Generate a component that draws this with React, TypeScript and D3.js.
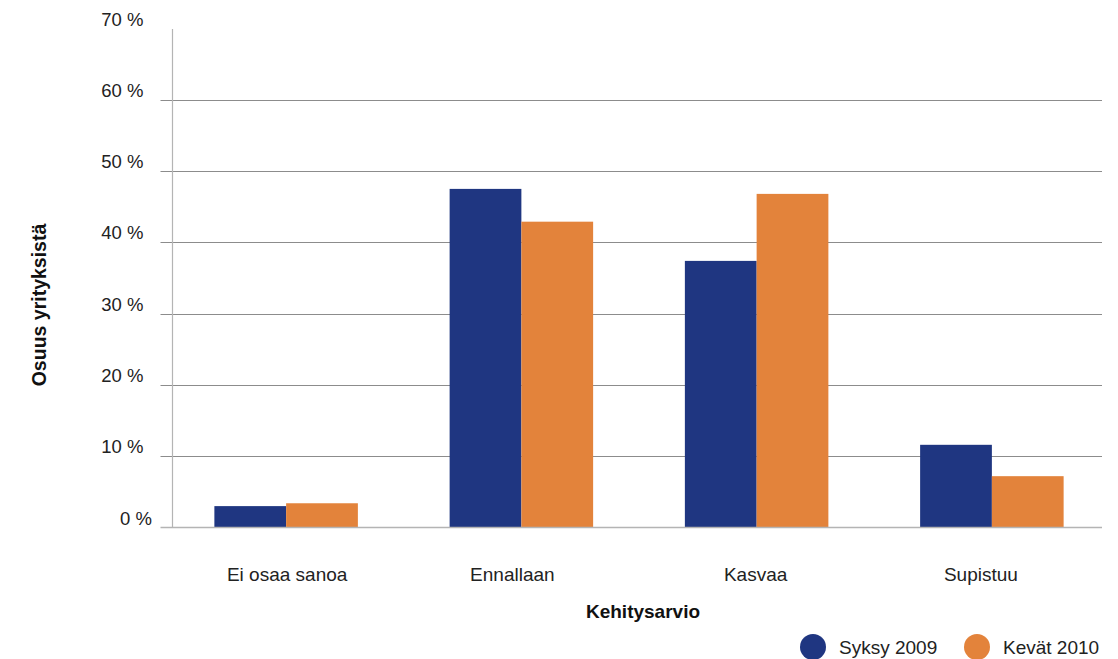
import React from "react";
import * as d3 from "d3";

const categories = ["Ei osaa sanoa", "Ennallaan", "Kasvaa", "Supistuu"];
const seriesNames = ["Syksy 2009", "Kevät 2010"];
const syksy2009 = [3.0, 47.5, 37.4, 11.6];
const kevat2010 = [3.4, 42.9, 46.8, 7.2];
const yTicks = [0, 10, 20, 30, 40, 50, 60, 70];
const colors = ["#1f3681", "#e3833b"];
const labelShift = [1, -9, -1, -11];

const W = 1118;
const H = 659;
const FONT = "'Liberation Sans', Arial, Helvetica, sans-serif";

export default function App() {
  const y = d3.scaleLinear().domain([0, 70]).range([527.5, 28.5]);
  const x = d3
    .scaleBand<string>()
    .domain(categories)
    .range([168.5, 1109.5])
    .paddingInner(0.39)
    .paddingOuter(0.195);
  const xs = d3
    .scaleBand<string>()
    .domain(seriesNames)
    .range([0, x.bandwidth()])
    .padding(0);
  const series = [syksy2009, kevat2010];
  const plotLeft = 172;
  const plotRight = 1102;

  return (
    <svg
      width={W}
      height={H}
      style={{ position: "absolute", left: 0, top: 0, background: "#fff" }}
      fontFamily={FONT}
    >
      {yTicks.map((t) => (
        <g key={t}>
          {t > 0 && t < 70 && (
            <line
              x1={160.5}
              x2={plotRight}
              y1={Math.round(y(t)) + 0.5}
              y2={Math.round(y(t)) + 0.5}
              stroke="#8c8c8c"
              strokeWidth={1}
            />
          )}
          <text
            x={t === 0 ? 152 : 143.5}
            y={y(t) - 3}
            textAnchor="end"
            fontSize={18.5}
            fill="#222"
          >
            {t} %
          </text>
        </g>
      ))}
      {categories.map((c, i) => (
        <g key={c} transform={`translate(${x(c)},0)`}>
          {seriesNames.map((s, j) => (
            <rect
              key={s}
              x={xs(s)}
              y={y(series[j][i])}
              width={xs.bandwidth()}
              height={y(0) - y(series[j][i])}
              fill={colors[j]}
            />
          ))}
        </g>
      ))}
      <line x1={160.5} x2={plotRight} y1={527.5} y2={527.5} stroke="#b4b4b4" strokeWidth={1.5} />
      <line x1={plotLeft + 0.5} x2={plotLeft + 0.5} y1={29} y2={528} stroke="#b4b4b4" strokeWidth={1.2} />
      {categories.map((c, i) => (
        <text
          key={c}
          x={(x(c) as number) + x.bandwidth() / 2 + labelShift[i]}
          y={581}
          textAnchor="middle"
          fontSize={19}
          fill="#222"
        >
          {c}
        </text>
      ))}
      <text x={643} y={618} textAnchor="middle" fontSize={19} fontWeight="bold" fill="#111">
        Kehitysarvio
      </text>
      <text
        transform="translate(46,305) rotate(-90)"
        textAnchor="middle"
        fontSize={19.5}
        fontWeight="bold"
        fill="#111"
      >
        Osuus yrityksistä
      </text>
      {seriesNames.map((s, j) => {
        const cx = j === 0 ? 813 : 977;
        return (
          <g key={s}>
            <circle cx={cx} cy={647} r={13} fill={colors[j]} />
            <text x={cx + 26} y={653.5} fontSize={19} fill="#222">
              {s}
            </text>
          </g>
        );
      })}
    </svg>
  );
}
